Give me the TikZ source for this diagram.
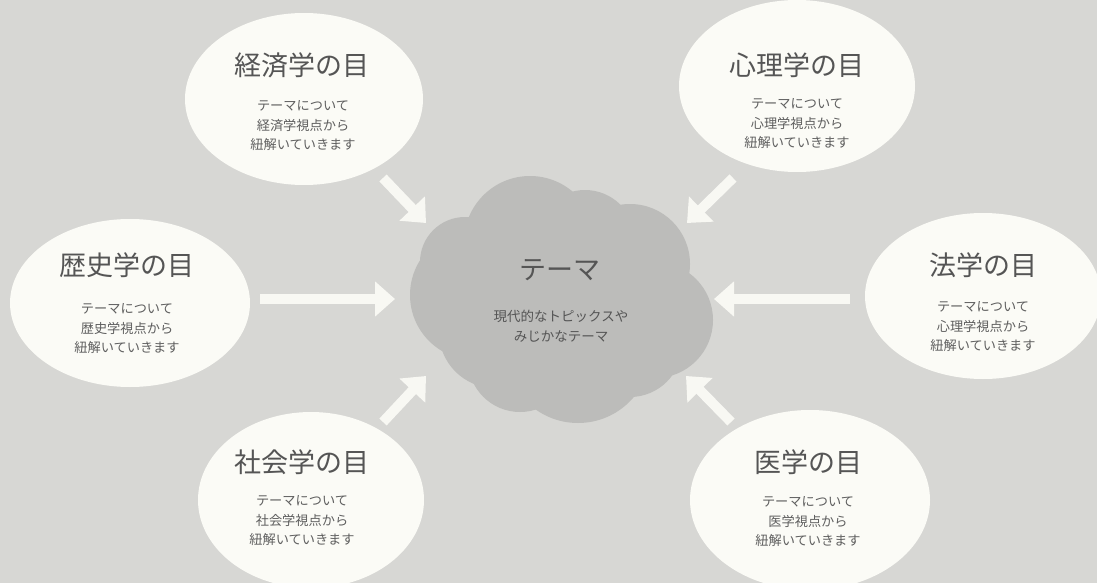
\documentclass[tikz,border=0pt]{standalone}
\usepackage{fontspec}
\newfontfamily\jp{Noto Sans CJK JP}
\usetikzlibrary{shapes.geometric,arrows.meta}
\definecolor{bg}{HTML}{D7D7D4}
\definecolor{eyefill}{HTML}{FBFBF6}
\definecolor{cloudc}{HTML}{BCBCBA}
\definecolor{arrowc}{HTML}{F8F8F3}
\definecolor{titlec}{HTML}{555555}
\definecolor{subc}{HTML}{5E5E5E}
\tikzset{
  eye/.style={ellipse, fill=eyefill, draw=none, inner sep=0pt},
  eyetitle/.style={font=\jp\fontsize{27}{30}\selectfont, text=titlec, inner sep=0pt},
  eyesub/.style={font=\jp\fontsize{13.2}{19.5}\selectfont, text=subc, align=center, inner sep=0pt},
  bigarrow/.style={draw=arrowc, line width=10pt, -{Triangle[width=34pt,length=20pt]}},
}
\begin{document}
\begin{tikzpicture}[x=1pt,y=-1pt]
\useasboundingbox (0,0) rectangle (1097,583);
\clip (0,0) rectangle (1097,583);
\fill[bg] (0,0) rectangle (1097,583);

% cloud
\begin{scope}[fill=cloudc]
\fill (530,242) circle[radius=66];
\fill (475,295) circle[radius=65];
\fill (630,264) circle[radius=60];
\fill (655,320) circle[radius=58];
\fill (578,350) circle[radius=73];
\fill (495,332) circle[radius=56];
\fill (570,300) circle[radius=75];
\fill (585,240) circle[radius=50];
\fill (630,345) circle[radius=52];
\fill (520,360) circle[radius=52];
\fill (465,262) circle[radius=45];
\end{scope}
\node[eyetitle] (themet) at (560,270) {テーマ};
\node[eyesub, font=\jp\fontsize{13.5}{20}\selectfont, text=titlec] (themes) at (561,326) {現代的なトピックスや\\みじかなテーマ};

% ellipses
\node[eye, minimum width=238, minimum height=172] (econ) at (304,99) {};
\node[eyetitle] (econt) at (302,65) {経済学の目};
\node[eyesub] (econs) at (303,126) {テーマについて\\経済学視点から\\紐解いていきます};

\node[eye, minimum width=236, minimum height=172] (psy) at (797,86) {};
\node[eyetitle] (psyt) at (797,65) {心理学の目};
\node[eyesub] (psys) at (797,124) {テーマについて\\心理学視点から\\紐解いていきます};

\node[eye, minimum width=240, minimum height=168] (hist) at (130,303) {};
\node[eyetitle] (histt) at (127,265) {歴史学の目};
\node[eyesub] (hists) at (127,329) {テーマについて\\歴史学視点から\\紐解いていきます};

\node[eye, minimum width=236, minimum height=166] (law) at (983,296) {};
\node[eyetitle] (lawt) at (983,265) {法学の目};
\node[eyesub] (laws) at (983,327) {テーマについて\\心理学視点から\\紐解いていきます};

\node[eye, minimum width=226, minimum height=176] (soc) at (311,500) {};
\node[eyetitle] (soct) at (302,462) {社会学の目};
\node[eyesub] (socs) at (302,521) {テーマについて\\社会学視点から\\紐解いていきます};

\node[eye, minimum width=240, minimum height=180] (med) at (810,500) {};
\node[eyetitle] (medt) at (808,462) {医学の目};
\node[eyesub] (meds) at (808,522) {テーマについて\\医学視点から\\紐解いていきます};

% arrows
\coordinate (a1s) at (383,178); \coordinate (a1e) at (426,223);
\coordinate (a2s) at (733,178); \coordinate (a2e) at (687,223);
\coordinate (a3s) at (260,299); \coordinate (a3e) at (395,299);
\coordinate (a4s) at (850,299); \coordinate (a4e) at (714,299);
\coordinate (a5s) at (383,422); \coordinate (a5e) at (426,376);
\coordinate (a6s) at (731,422); \coordinate (a6e) at (686,376);
\draw[bigarrow] (a1s) -- (a1e);
\draw[bigarrow] (a2s) -- (a2e);
\draw[bigarrow] (a3s) -- (a3e);
\draw[bigarrow] (a4s) -- (a4e);
\draw[bigarrow] (a5s) -- (a5e);
\draw[bigarrow] (a6s) -- (a6e);
\end{tikzpicture}
\end{document}
